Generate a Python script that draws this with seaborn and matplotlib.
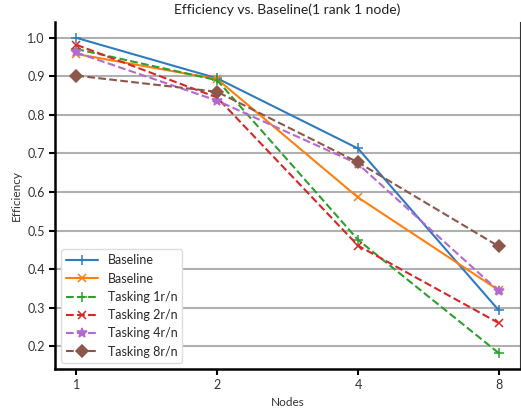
import matplotlib
matplotlib.use("Agg")
import matplotlib.pyplot as plt
import seaborn as sns
from matplotlib.ticker import FixedLocator, FixedFormatter, NullLocator

sns.set_style("white")
plt.rcParams['font.family'] = ['Lato', 'DejaVu Sans']

nodes = [1, 2, 4, 8]
baseline_a = [1.0, 0.895, 0.713, 0.293]
baseline_b = [0.958, 0.893, 0.586, 0.345]
tasking_1 = [0.971, 0.890, 0.476, 0.182]
tasking_2 = [0.982, 0.845, 0.461, 0.260]
tasking_4 = [0.962, 0.837, 0.673, 0.343]
tasking_8 = [0.902, 0.860, 0.677, 0.459]

series = [
    ("Baseline", baseline_a, "+", "-", "#2f7bbf", 7),
    ("Baseline", baseline_b, "x", "-", "#ff7f0e", 6),
    ("Tasking 1r/n", tasking_1, "+", "--", "#2ca02c", 7),
    ("Tasking 2r/n", tasking_2, "x", "--", "#d62728", 6),
    ("Tasking 4r/n", tasking_4, "*", "--", "#b469d1", 7.5),
    ("Tasking 8r/n", tasking_8, "D", "--", "#8c564b", 6.5),
]

fig, ax = plt.subplots(figsize=(5.21, 4.09), dpi=100)
ax.set_xscale("log", base=2)
for label, vals, mk, ls, col, ms in series:
    sns.lineplot(x=nodes, y=vals, ax=ax, label=label, marker=mk, linestyle=ls,
                 color=col, markersize=ms, linewidth=1.5, markeredgewidth=1.1,
                 markeredgecolor=col)

ax.set_xlim(2 ** -0.15, 2 ** 3.15)
ax.xaxis.set_major_locator(FixedLocator(nodes))
ax.xaxis.set_major_formatter(FixedFormatter([str(n) for n in nodes]))
ax.xaxis.set_minor_locator(NullLocator())
ax.set_yticks([0.2, 0.3, 0.4, 0.5, 0.6, 0.7, 0.8, 0.9, 1.0])

ax.yaxis.grid(True, color="#b0b0b0", linewidth=1.5)
ax.set_axisbelow(True)

ax.spines["top"].set_visible(False)
ax.spines["right"].set_color("#333333")
ax.spines["right"].set_linewidth(0.8)
for s in ["left", "bottom"]:
    ax.spines[s].set_color("black")
    ax.spines[s].set_linewidth(1.8)

ax.tick_params(axis="both", which="major", direction="out", length=4, width=1.5,
               color="black", labelsize=9, labelcolor="#333333",
               left=True, bottom=True)

ax.set_title("Efficiency vs. Baseline(1 rank 1 node)", fontsize=10, color="#222222")
ax.set_xlabel("Nodes", fontsize=8.5, color="#333333")
ax.set_ylabel("Efficiency", fontsize=8.5, color="#333333")

ax.legend(loc="lower left", fontsize=9, frameon=True, fancybox=True,
          edgecolor="#dddddd", framealpha=1.0, handlelength=2.5)

fig.subplots_adjust(left=0.106, right=0.998, top=0.946, bottom=0.098)
fig.savefig("out.png", dpi=100)
